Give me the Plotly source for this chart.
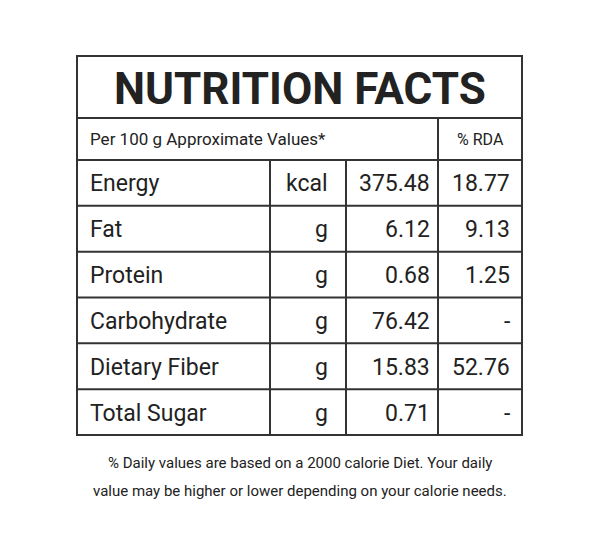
import plotly.graph_objects as go

title = "NUTRITION FACTS"
header_left = "Per 100 g Approximate Values*"
header_right = "% RDA"
nutrients = ["Energy", "Fat", "Protein", "Carbohydrate", "Dietary Fiber", "Total Sugar"]
units = ["kcal", "g", "g", "g", "g", "g"]
values = ["375.48", "6.12", "0.68", "76.42", "15.83", "0.71"]
rda = ["18.77", "9.13", "1.25", "-", "52.76", "-"]
footnote = ["% Daily values are based on a 2000 calorie Diet. Your daily",
            "value may be higher or lower depending on your calorie needs."]

FONT = "Liberation Sans Narrow, Roboto, sans-serif"
OFF = 8
L, R, T, B = 77 - OFF, 522 - OFF, 56 - OFF, 435 - OFF
title_b, head_b = 118 - OFF, 160 - OFF
row_h = (B - head_b) / len(nutrients)
c1, c2, c3 = 270 - OFF, 346 - OFF, 438 - OFF
LC = dict(color="#333", width=2)

fig = go.Figure()
shapes = [dict(type="rect", x0=L, x1=R, y0=T, y1=B, line=LC),
          dict(type="line", x0=L, x1=R, y0=title_b, y1=title_b, line=LC),
          dict(type="line", x0=L, x1=R, y0=head_b, y1=head_b, line=LC),
          dict(type="line", x0=c3, x1=c3, y0=title_b, y1=B, line=LC)]
for c in (c1, c2):
    shapes.append(dict(type="line", x0=c, x1=c, y0=head_b, y1=B, line=LC))
for i in range(1, len(nutrients)):
    y = head_b + i * row_h
    shapes.append(dict(type="line", x0=L, x1=R, y0=y, y1=y, line=LC))

ann = [dict(x=(L + R) / 2, y=(T + title_b) / 2 + 2, text=f"<b>{title}</b>", showarrow=False,
            font=dict(size=44, family=FONT, color="#222"))]
ann.append(dict(x=88 - OFF, y=(title_b + head_b) / 2, text=header_left, xanchor="left", showarrow=False,
                font=dict(size=17, family=FONT, color="#222")))
ann.append(dict(x=(c3 + R) / 2, y=(title_b + head_b) / 2, text=header_right, showarrow=False,
                font=dict(size=16, family=FONT, color="#222")))
for i, n in enumerate(nutrients):
    y = head_b + (i + 0.5) * row_h + 1
    f = dict(size=23, family=FONT, color="#222")
    ann.append(dict(x=88 - OFF, y=y, text=n, xanchor="left", showarrow=False, font=f))
    ann.append(dict(x=c2 - 16, y=y, text=units[i], xanchor="right", showarrow=False, font=f))
    ann.append(dict(x=c3 - 6, y=y, text=values[i], xanchor="right", showarrow=False, font=f))
    ann.append(dict(x=R - 10, y=y, text=rda[i], xanchor="right", showarrow=False, font=f))
for j, line in enumerate(footnote):
    ann.append(dict(x=300 - OFF, y=463 - OFF + j * 28, text=line, showarrow=False,
                    font=dict(size=15, family=FONT, color="#222")))

fig.update_layout(width=600, height=558, margin=dict(l=0, r=0, t=0, b=0),
                  paper_bgcolor="white", plot_bgcolor="white", shapes=shapes, annotations=ann,
                  xaxis=dict(range=[0, 600], visible=False, fixedrange=True),
                  yaxis=dict(range=[558, 0], visible=False, fixedrange=True),
                  showlegend=False)
fig.write_html("out.html")
